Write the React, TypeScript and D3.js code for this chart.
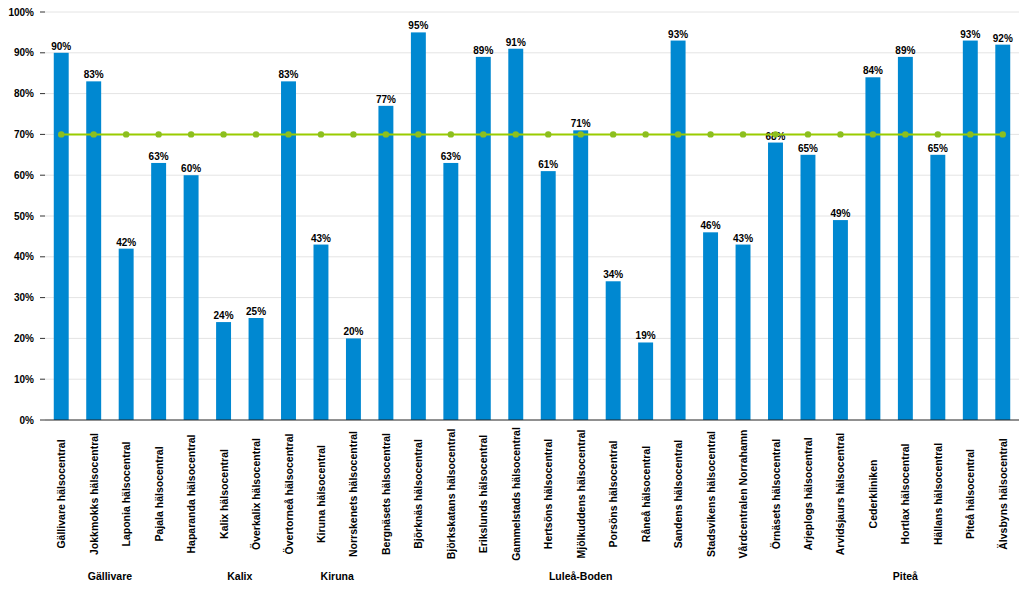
import React from "react";
import * as d3 from "d3";

const categories = [
  "Gällivare hälsocentral", "Jokkmokks hälsocentral", "Laponia hälsocentral", "Pajala hälsocentral",
  "Haparanda hälsocentral", "Kalix hälsocentral", "Överkalix hälsocentral", "Övertorneå hälsocentral",
  "Kiruna hälsocentral", "Norrskenets hälsocentral",
  "Bergnäsets hälsocentral", "Björknäs hälsocentral", "Björkskatans hälsocentral", "Erikslunds hälsocentral",
  "Gammelstads hälsocentral", "Hertsöns hälsocentral", "Mjölkuddens hälsocentral", "Porsöns hälsocentral",
  "Råneå hälsocentral", "Sandens hälsocentral", "Stadsvikens hälsocentral", "Vårdcentralen Norrahamn",
  "Örnäsets hälsocentral",
  "Arjeplogs hälsocentral", "Arvidsjaurs hälsocentral", "Cederkliniken", "Hortlax hälsocentral",
  "Hällans hälsocentral", "Piteå hälsocentral", "Älvsbyns hälsocentral",
];
const values = [90, 83, 42, 63, 60, 24, 25, 83, 43, 20, 77, 95, 63, 89, 91, 61, 71, 34, 19, 93, 46, 43, 68, 65, 49, 84, 89, 65, 93, 92];
const target = 70;
const groups = ["Gällivare", "Kalix", "Kiruna", "Luleå-Boden", "Piteå"];
const groupSizes = [4, 4, 2, 13, 7];
const yTicks = [0, 10, 20, 30, 40, 50, 60, 70, 80, 90, 100];

export default function App() {
  const W = 1024, H = 589;
  const left = 45, right = 1019, top = 12, bottom = 420;
  const x = d3.scaleBand<number>().domain(d3.range(categories.length)).range([left, right]).paddingInner(0.54).paddingOuter(0.27);
  const y = d3.scaleLinear().domain([0, 100]).range([bottom, top]);
  const font = "'Liberation Sans', Arial, sans-serif";
  const cx = (i: number) => (x(i) as number) + x.bandwidth() / 2;
  const line = d3.line<number>().x((_, i) => cx(i)).y(() => y(target));
  let start = 0;
  const groupPos = groupSizes.map((n) => {
    const a = start, b = start + n - 1;
    start += n;
    return (cx(a) + cx(b)) / 2;
  });
  return (
    <svg width={W} height={H} style={{ position: "absolute", left: 0, top: 0, background: "#fff" }} fontFamily={font}>
      {yTicks.map((t) => (
        <g key={t}>
          {t > 0 && <line x1={left} x2={right} y1={y(t)} y2={y(t)} stroke="#e4e4e4" strokeWidth={1} />}
          <line x1={40} x2={45} y1={y(t)} y2={y(t)} stroke="#333" strokeWidth={1} />
          <text x={34} y={y(t)} dy="0.35em" textAnchor="end" fontSize={10} fontWeight="bold" fill="#000">{t}%</text>
        </g>
      ))}
      {values.map((v, i) => (
        <g key={i}>
          <rect x={x(i)} y={y(v)} width={x.bandwidth()} height={bottom - y(v)} fill="#0088d1" />
          <text x={cx(i)} y={y(v) - 3} textAnchor="middle" fontSize={10} fontWeight="bold" fill="#000">{v}%</text>
        </g>
      ))}
      <line x1={left} x2={right} y1={bottom} y2={bottom} stroke="#222" strokeWidth={1} />
      <path d={line(values) || ""} fill="none" stroke="#99cc00" strokeWidth={2} />
      {values.map((_, i) => (
        <circle key={i} cx={cx(i)} cy={y(target)} r={3.2} fill="#8cbf1f" />
      ))}
      {categories.map((c, i) => (
        <text key={c} transform={`translate(${cx(i) + 4},494) rotate(-90)`} textAnchor="middle" fontSize={10.5} fontWeight="bold" fill="#000">{c}</text>
      ))}
      {groups.map((g, i) => (
        <text key={g} x={groupPos[i]} y={580} textAnchor="middle" fontSize={10.5} fontWeight="bold" fill="#000">{g}</text>
      ))}
    </svg>
  );
}
